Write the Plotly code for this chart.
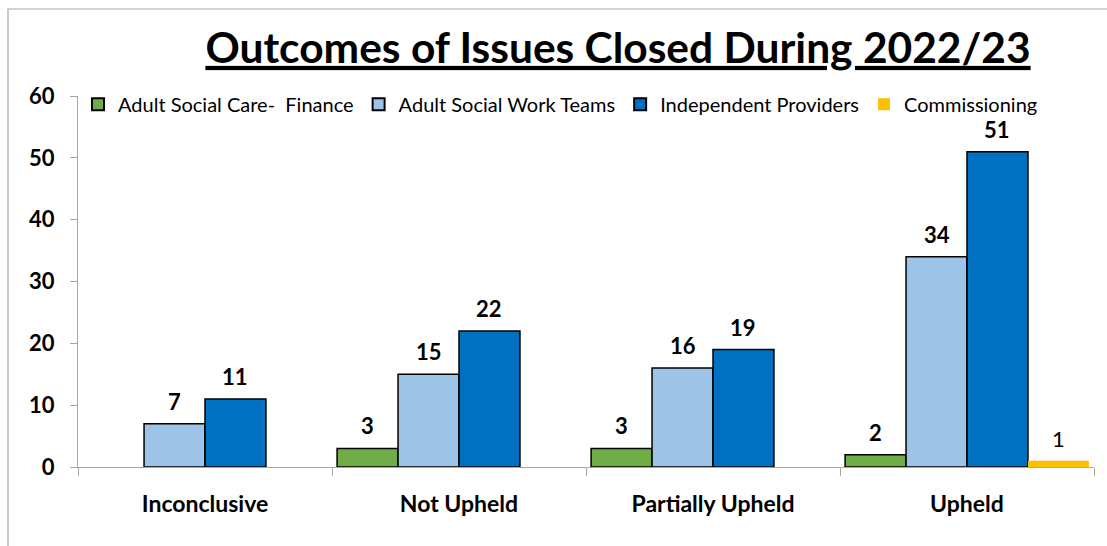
import plotly.graph_objects as go

categories = ["Inconclusive", "Not Upheld", "Partially Upheld", "Upheld"]
series_names = ["Adult Social Care-  Finance", "Adult Social Work Teams",
                "Independent Providers", "Commissioning"]
finance = [None, 3, 3, 2]
social_work = [7, 15, 16, 34]
independent = [11, 22, 19, 51]
commissioning = [None, None, None, 1]
series_values = [finance, social_work, independent, commissioning]
colors = ["#70AD47", "#9DC3E6", "#0070C0", "#FFC000"]
y_ticks = [0, 10, 20, 30, 40, 50, 60]

FONT = "Lato"
W, H = 1107, 546
ML, MR, MT, MB = 78, 13, 96, 79
BARGAP = 0.04
plot_w = W - ML - MR
bar_px = plot_w / len(categories) * (1 - BARGAP) / len(series_names)

fig = go.Figure()
for i, (name, vals, col) in enumerate(zip(series_names, series_values, colors)):
    fig.add_trace(go.Bar(
        name=name, x=categories, y=vals,
        marker=dict(color=col,
                    line=dict(color="black", width=0 if i == 3 else 1.5)),
    ))

annotations = []
for i, vals in enumerate(series_values):
    for c, v in zip(categories, vals):
        if v is None:
            continue
        annotations.append(dict(
            x=c, y=v, xref="x", yref="y", text=("<b>%d</b>" % v) if i < 3 else str(v),
            showarrow=False, yanchor="bottom", yshift=8, borderpad=0,
            xshift=(i - 1.5) * bar_px,
            font=dict(family=FONT, size=22, color="black"),
        ))

fig.update_layout(
    width=W, height=H, barmode="group", bargap=BARGAP, bargroupgap=0,
    margin=dict(l=ML, r=MR, t=MT, b=MB),
    paper_bgcolor="white", plot_bgcolor="white",
    font=dict(family=FONT, color="black"),
    title=dict(text="<b><u>Outcomes of Issues Closed During 2022/23</u></b>",
               x=618 / W, xanchor="center", y=1 - 48 / H, yanchor="middle",
               font=dict(family=FONT, size=42.5, color="black")),
    legend=dict(orientation="h", x=0, xanchor="left", y=1.03, yanchor="top",
                font=dict(family=FONT, size=20, color="black"),
                itemsizing="constant", bgcolor="rgba(0,0,0,0)", tracegroupgap=0),
    annotations=annotations,
    shapes=[dict(type="rect", xref="paper", yref="paper",
                 x0=(8 - ML) / plot_w, x1=(W + 5 - ML) / plot_w,
                 y0=-(H + 5 - (H - MB)) / (H - MT - MB),
                 y1=1 + (MT - 9) / (H - MT - MB),
                 line=dict(color="#A6A6A6", width=1.2), layer="below")],
)
fig.update_yaxes(range=[0, 60], tickvals=y_ticks, showgrid=False, zeroline=False,
                 showline=True, linecolor="#A6A6A6", linewidth=1.2,
                 ticks="outside", ticklen=7, tickcolor="#A6A6A6",
                 ticklabelstandoff=11,
                 tickfont=dict(family=FONT, size=22, color="black", weight="bold"))
fig.update_xaxes(showgrid=False, showline=True, linecolor="#A6A6A6", linewidth=1.2,
                 ticks="outside", ticklen=8, tickcolor="#A6A6A6", tickson="boundaries",
                 ticklabelstandoff=16,
                 tickfont=dict(family=FONT, size=23, color="black", weight="bold"))

fig.write_html("out.html")
